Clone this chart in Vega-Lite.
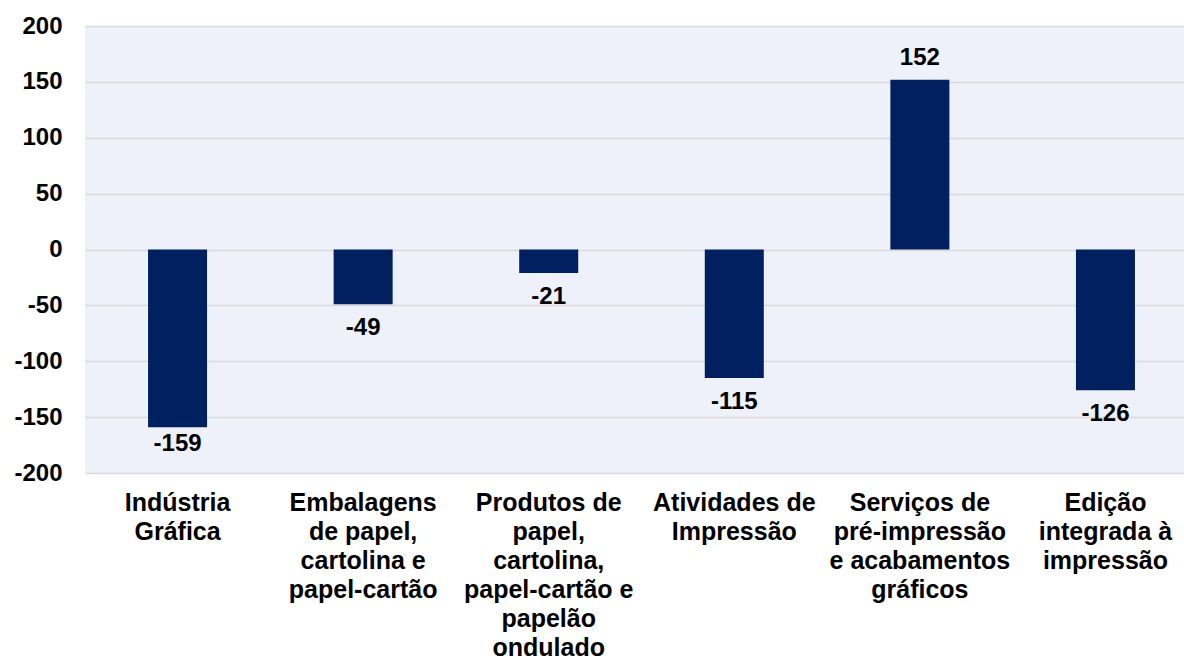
{
  "$schema": "https://vega.github.io/schema/vega-lite/v6.json",
  "width": 1099,
  "height": 447,
  "autosize": "none",
  "padding": {"left": 85, "top": 26, "right": 0, "bottom": 188},
  "background": "white",
  "config": {
    "view": {"fill": "#eef1f9", "stroke": null},
    "font": "Liberation Sans"
  },
  "data": {
    "values": [
      {"label": "Indústria|Gráfica", "value": -159},
      {"label": "Embalagens|de papel,|cartolina e|papel-cartão", "value": -49},
      {"label": "Produtos de|papel,|cartolina,|papel-cartão e|papelão|ondulado", "value": -21},
      {"label": "Atividades de|Impressão", "value": -115},
      {"label": "Serviços de|pré-impressão|e acabamentos|gráficos", "value": 152},
      {"label": "Edição|integrada à|impressão", "value": -126}
    ]
  },
  "encoding": {
    "x": {
      "field": "label",
      "type": "nominal",
      "sort": null,
      "scale": {"paddingInner": 0.682, "paddingOuter": 0.302, "align": 0.5625},
      "axis": {
        "title": null,
        "labelAngle": 0,
        "labelExpr": "split(datum.label, '|')",
        "labelFont": "Liberation Sans",
        "labelFontSize": 25,
        "labelFontWeight": "bold",
        "labelColor": "#000000",
        "labelLineHeight": 29,
        "labelPadding": 17,
        "labelLimit": 300,
        "ticks": false,
        "domain": false
      }
    },
    "y": {
      "field": "value",
      "type": "quantitative",
      "scale": {"domain": [-200, 200]},
      "axis": {
        "title": null,
        "values": [-200, -150, -100, -50, 0, 50, 100, 150, 200],
        "labelExpr": "'' + datum.value",
        "labelFont": "Liberation Sans",
        "labelFontSize": 24,
        "labelFontWeight": "bold",
        "labelColor": "#000000",
        "labelPadding": 23,
        "ticks": false,
        "domain": false,
        "gridColor": "#d9d9d9",
        "gridWidth": 1.5
      }
    }
  },
  "layer": [
    {"mark": {"type": "bar", "color": "#002060"}},
    {
      "transform": [{"filter": "datum.value < 0 && datum.value > -150"}],
      "mark": {"type": "text", "baseline": "top", "dy": 12, "fontSize": 24, "fontWeight": "bold", "color": "#000000", "font": "Liberation Sans"},
      "encoding": {"text": {"field": "value", "type": "nominal"}}
    },
    {
      "transform": [{"filter": "datum.value <= -150"}],
      "mark": {"type": "text", "baseline": "top", "dy": 5, "fontSize": 24, "fontWeight": "bold", "color": "#000000", "font": "Liberation Sans"},
      "encoding": {"text": {"field": "value", "type": "nominal"}}
    },
    {
      "transform": [{"filter": "datum.value >= 0"}],
      "mark": {"type": "text", "baseline": "bottom", "dy": -10, "fontSize": 24, "fontWeight": "bold", "color": "#000000", "font": "Liberation Sans"},
      "encoding": {"text": {"field": "value", "type": "nominal"}}
    }
  ]
}
